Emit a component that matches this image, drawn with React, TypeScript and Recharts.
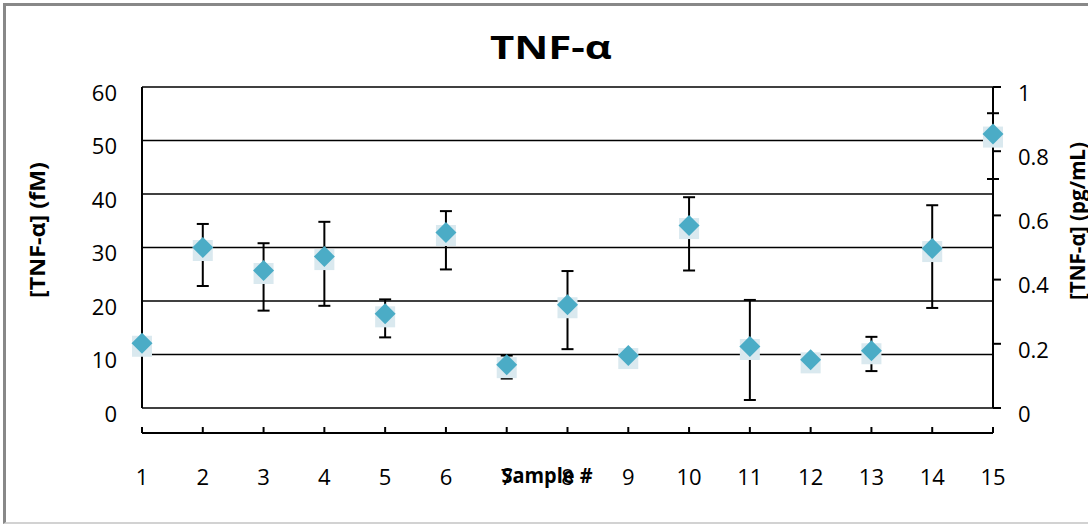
import React from 'react';
import { LineChart, Line, XAxis, YAxis, CartesianGrid, ErrorBar } from 'recharts';

const sampleLabels = ['1', '2', '3', '4', '5', '6', '7', '8', '9', '10', '11', '12', '13', '14', '15'];
const meanFm = [12.1, 30.0, 25.7, 28.3, 17.6, 32.8, 8.1, 19.3, 9.8, 34.1, 11.5, 9.0, 10.7, 29.8, 51.2];
const errTopFm = [12.1, 34.4, 30.8, 34.8, 20.3, 36.8, 9.8, 25.6, 9.8, 39.4, 20.2, 9.0, 13.3, 37.9, 55.1];
const errBottomFm = [12.1, 22.8, 18.2, 19.1, 13.2, 25.9, 5.5, 11.0, 9.8, 25.7, 1.5, 9.0, 6.9, 18.7, 42.8];
const leftTicks = [0, 10, 20, 30, 40, 50, 60];
const rightTicks = [0, 0.2, 0.4, 0.6, 0.8, 1];

const data = sampleLabels.map((s, i) => ({
  sample: s,
  mean: meanFm[i],
  err: [meanFm[i] - errBottomFm[i], errTopFm[i] - meanFm[i]],
  pgml: null as number | null,
}));

const FONT = "'Open Sans', 'DejaVu Sans', sans-serif";
const tickStyle = { fontSize: 22, fill: '#000', fontFamily: FONT };

const Marker = (props: any) => {
  const { cx, cy } = props;
  if (cx == null || cy == null) return null;
  const r = 10.5;
  return (
    <g>
      <rect x={cx - 10} y={cy - 7.5} width={20} height={21} fill="#DAE9EF" />
      <polygon
        points={`${cx},${cy - r} ${cx + r},${cy} ${cx},${cy + r} ${cx - r},${cy}`}
        fill="#4BACC6"
      />
    </g>
  );
};

export default function App() {
  return (
    <div style={{ position: 'fixed', left: 0, top: 0, width: 1088, height: 525, background: '#fff' }}>
      <div
        style={{
          position: 'absolute',
          left: 3,
          top: 3,
          width: 1085,
          height: 521,
          boxSizing: 'border-box',
          borderTop: '3px solid #888',
          borderLeft: '3px solid #888',
          borderBottom: '2px solid #d2d2d2',
        }}
      />
      <div style={{ position: 'absolute', left: 0, top: 0 }}>
        <LineChart width={1088} height={525} data={data} margin={{ top: 87, right: 35, left: 82, bottom: 32 }}>
          <CartesianGrid vertical={false} stroke="#000" strokeWidth={1.6} />
          <XAxis dataKey="sample" height={25} axisLine={false} tickLine={false} tick={false} />
          <XAxis
            xAxisId="b"
            dataKey="sample"
            height={60}
            interval={0}
            tickSize={-6}
            tickMargin={42}
            axisLine={{ stroke: '#000', strokeWidth: 2 }}
            tickLine={{ stroke: '#000', strokeWidth: 2 }}
            tick={tickStyle}
          />
          <YAxis
            domain={[0, 60]}
            ticks={leftTicks}
            interval={0}
            width={60}
            tickLine={false}
            tickMargin={19}
            axisLine={{ stroke: '#000', strokeWidth: 2 }}
            tick={{ ...tickStyle, dy: 6 }}
          />
          <YAxis
            yAxisId="right"
            orientation="right"
            domain={[0, 1]}
            ticks={rightTicks}
            interval={0}
            width={60}
            tickSize={8}
            tickMargin={17}
            allowDataOverflow
            axisLine={{ stroke: '#000', strokeWidth: 2 }}
            tickLine={{ stroke: '#000', strokeWidth: 2 }}
            tick={{ ...tickStyle, dy: 6 }}
          />
          <Line
            yAxisId="right"
            dataKey="pgml"
            stroke="none"
            dot={false}
            activeDot={false}
            legendType="none"
            isAnimationActive={false}
          />
          <Line
            dataKey="mean"
            stroke="none"
            isAnimationActive={false}
            dot={<Marker />}
            activeDot={false}
          >
            <ErrorBar dataKey="err" width={6} stroke="#000" strokeWidth={2} direction="y" />
          </Line>
        </LineChart>
      </div>
      <svg
        width={1088}
        height={525}
        style={{ position: 'absolute', left: 0, top: 0, pointerEvents: 'none' }}
      >
        <text
          x={551}
          y={59}
          textAnchor="middle"
          fontFamily={FONT}
          fontWeight="bold"
          fontSize={33}
          textLength={122}
          lengthAdjust="spacingAndGlyphs"
          fill="#000"
        >
          TNF-α
        </text>
        <text
          transform="translate(37,230) rotate(-90)"
          textAnchor="middle"
          dominantBaseline="central"
          fontFamily={FONT}
          fontWeight="bold"
          fontSize={21}
          textLength={136}
          lengthAdjust="spacingAndGlyphs"
          fill="#000"
        >
          [TNF-α] (fM)
        </text>
        <text
          transform="translate(1077,221) rotate(-90)"
          textAnchor="middle"
          dominantBaseline="central"
          fontFamily={FONT}
          fontWeight="bold"
          fontSize={21}
          textLength={158}
          lengthAdjust="spacingAndGlyphs"
          fill="#000"
        >
          [TNF-α] (pg/mL)
        </text>
        <text
          x={547}
          y={483}
          textAnchor="middle"
          fontFamily={FONT}
          fontWeight="bold"
          fontSize={21}
          textLength={91}
          lengthAdjust="spacingAndGlyphs"
          fill="#000"
        >
          Sample #
        </text>
      </svg>
    </div>
  );
}
